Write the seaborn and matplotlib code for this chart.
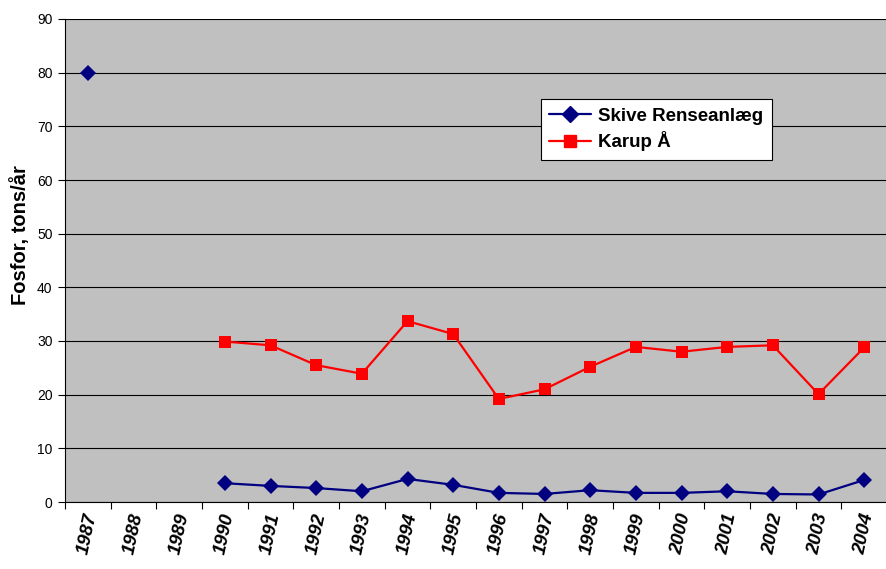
import matplotlib
matplotlib.use("Agg")
import matplotlib.pyplot as plt
import numpy as np
import pandas as pd
import seaborn as sns
from matplotlib.ticker import FixedLocator

years = list(range(1987, 2005))
skive = [80.0, np.nan, np.nan, 3.5, 3.0, 2.6, 2.0, 4.3, 3.2, 1.7, 1.5, 2.2, 1.7, 1.7, 2.0, 1.5, 1.4, 4.1]
karup = [np.nan, np.nan, np.nan, 29.9, 29.2, 25.5, 23.9, 33.7, 31.3, 19.2, 21.0, 25.2, 28.9, 28.0, 28.9, 29.2, 20.1, 28.8]
series_names = ["Skive Renseanlæg", "Karup Å"]
colors = {"Skive Renseanlæg": "#000080", "Karup Å": "#FF0000"}
markers = {"Skive Renseanlæg": "D", "Karup Å": "s"}

sns.set_theme(style="white")
plt.rcParams["font.family"] = ["Liberation Sans", "DejaVu Sans"]
plt.rcParams.update({
    "text.color": "black",
    "axes.labelcolor": "black",
    "xtick.color": "black",
    "ytick.color": "black",
})

rows = []
for name, vals in zip(series_names, [skive, karup]):
    seg = 0
    for y, v in zip(years, vals):
        if np.isnan(v):
            seg += 1
            continue
        rows.append({"year": y, "value": v, "series": name, "segment": f"{name}-{seg}"})
df = pd.DataFrame(rows)

fig = plt.figure(figsize=(8.87, 5.69), dpi=100)
ax = fig.add_axes([65 / 887, 67 / 569, 822 / 887, 483 / 569])
ax.set_facecolor("#C0C0C0")

sns.lineplot(
    data=df, x="year", y="value", hue="series", style="series",
    units="segment", estimator=None, palette=colors, markers=markers,
    dashes=False, hue_order=series_names, style_order=series_names,
    linewidth=1.6, markersize=8, markeredgewidth=0, ax=ax, legend=False,
)

ax.set_xlim(1986.5, 2004.5)
ax.set_ylim(0, 90)
ax.set_yticks(range(0, 91, 10))
ax.yaxis.grid(True, color="black", linewidth=0.8)
ax.set_axisbelow(True)
ax.set_xticks(years)
ax.set_xticklabels([str(y) for y in years], rotation=78, fontsize=13.5,
                   fontweight="bold", fontstyle="italic", ha="center", va="top")
ax.xaxis.set_minor_locator(FixedLocator(np.arange(1986.5, 2005, 1)))
ax.tick_params(axis="x", which="major", length=0, pad=7)
ax.tick_params(axis="x", which="minor", length=5, width=0.8, color="black", direction="out", bottom=True)
ax.tick_params(axis="y", length=5, width=0.8, color="black", direction="out", left=True,
               labelsize=10, pad=4)
for s in ["top", "right"]:
    ax.spines[s].set_visible(False)
for s in ["left", "bottom"]:
    ax.spines[s].set_color("black")
    ax.spines[s].set_linewidth(0.8)

ax.set_xlabel("")
ax.set_ylabel("Fosfor, tons/år", fontsize=14.5, fontweight="bold")
ax.yaxis.set_label_coords(-0.043, 0.553)

handles = [
    plt.Line2D([], [], color=colors[n], marker=markers[n], markersize=8, linewidth=1.6)
    for n in series_names
]
leg = ax.legend(handles, series_names, loc="upper left", bbox_to_anchor=(0.579, 0.834),
                borderaxespad=0, frameon=True, fancybox=False, framealpha=1,
                prop={"weight": "bold", "size": 13.5}, handlelength=2.2,
                handletextpad=0.4, labelspacing=0.35, borderpad=0.45)
leg.get_frame().set_edgecolor("black")
leg.get_frame().set_linewidth(0.8)

fig.savefig("out.png", dpi=100)
